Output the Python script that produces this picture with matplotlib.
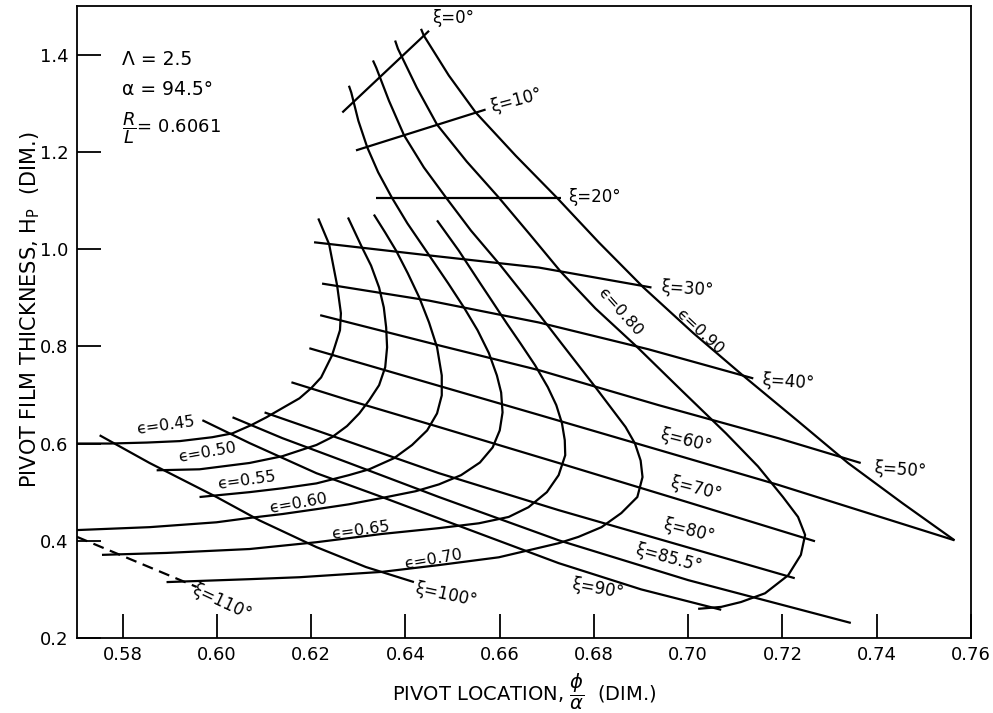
import matplotlib
matplotlib.use('Agg')
import matplotlib.pyplot as plt

plt.rcParams['font.family'] = ['DejaVu Sans']
plt.rcParams['mathtext.fontset'] = 'dejavusans'

# eccentricity curves (pivot location phi/alpha, film thickness Hp)
eps45_x = [0.6215, 0.6238, 0.6255, 0.6263, 0.6261, 0.6244, 0.6221, 0.6200, 0.6175, 0.6139,
           0.6105, 0.6073, 0.6033, 0.5990, 0.5921, 0.5851, 0.5772, 0.5703]
eps45_y = [1.063, 1.010, 0.925, 0.868, 0.833, 0.781, 0.736, 0.714, 0.693, 0.673,
           0.654, 0.638, 0.621, 0.613, 0.605, 0.602, 0.600, 0.600]

eps50_x = [0.6278, 0.6308, 0.6327, 0.6344, 0.6354, 0.6359, 0.6361, 0.6357, 0.6344, 0.6323,
           0.6302, 0.6276, 0.6244, 0.6211, 0.6139, 0.6069, 0.5963, 0.5872]
eps50_y = [1.065, 1.003, 0.966, 0.921, 0.880, 0.839, 0.798, 0.757, 0.720, 0.689,
           0.662, 0.636, 0.613, 0.597, 0.574, 0.560, 0.547, 0.545]

eps55_x = [0.6333, 0.6357, 0.6380, 0.6405, 0.6429, 0.6450, 0.6467, 0.6477, 0.6477, 0.6467,
           0.6446, 0.6414, 0.6376, 0.6323, 0.6280, 0.6211, 0.6139, 0.6069, 0.5963]
eps55_y = [1.071, 1.034, 0.997, 0.950, 0.901, 0.849, 0.798, 0.740, 0.699, 0.662,
           0.627, 0.597, 0.570, 0.547, 0.535, 0.518, 0.508, 0.500, 0.490]

eps60_x = [0.6280, 0.6285, 0.6300, 0.6319, 0.6342, 0.6371, 0.6404, 0.6449, 0.6491, 0.6524,
           0.6553, 0.6577, 0.6594, 0.6603, 0.6606, 0.6600, 0.6585, 0.6558, 0.6518, 0.6471,
           0.6422, 0.6350, 0.6280, 0.6211, 0.6139, 0.6069, 0.5999, 0.5857, 0.5703]
eps60_y = [1.336, 1.322, 1.264, 1.209, 1.158, 1.106, 1.053, 0.989, 0.929, 0.880,
           0.833, 0.786, 0.740, 0.705, 0.664, 0.627, 0.592, 0.561, 0.535, 0.516,
           0.502, 0.488, 0.475, 0.465, 0.455, 0.447, 0.438, 0.428, 0.422]

eps65_x = [0.6467, 0.6490, 0.6513, 0.6559, 0.6583, 0.6615, 0.6644, 0.6675, 0.6702, 0.6720,
           0.6732, 0.6738, 0.6739, 0.6725, 0.6700, 0.6661, 0.6619, 0.6556, 0.6471, 0.6350,
           0.6211, 0.6069, 0.5893, 0.5756]
eps65_y = [1.059, 1.028, 0.997, 0.929, 0.894, 0.847, 0.806, 0.761, 0.716, 0.679,
           0.642, 0.607, 0.576, 0.535, 0.500, 0.469, 0.449, 0.436, 0.426, 0.414,
           0.397, 0.383, 0.375, 0.371]

eps70_x = [0.6331, 0.6338, 0.6365, 0.6397, 0.6439, 0.6486, 0.6539, 0.6602, 0.6661, 0.6731,
           0.6803, 0.6867, 0.6887, 0.6899, 0.6903, 0.6892, 0.6858, 0.6816, 0.6767, 0.6725,
           0.6598, 0.6471, 0.6350, 0.6175, 0.6069, 0.5893]
eps70_y = [1.388, 1.373, 1.305, 1.234, 1.168, 1.106, 1.038, 0.966, 0.894, 0.806,
           0.716, 0.634, 0.600, 0.565, 0.531, 0.490, 0.457, 0.428, 0.408, 0.395,
           0.366, 0.350, 0.336, 0.325, 0.321, 0.315]

eps80_x = [0.6378, 0.6384, 0.6424, 0.6467, 0.6530, 0.6598, 0.6664, 0.6729, 0.6803, 0.6890,
           0.6985, 0.7080, 0.7148, 0.7201, 0.7233, 0.7248, 0.7239, 0.7212, 0.7163, 0.7112,
           0.7070, 0.7021]
eps80_y = [1.429, 1.412, 1.332, 1.256, 1.180, 1.106, 1.030, 0.954, 0.878, 0.800,
           0.710, 0.621, 0.553, 0.490, 0.449, 0.412, 0.371, 0.329, 0.292, 0.274,
           0.264, 0.260]

eps90_x = [0.6433, 0.6439, 0.6492, 0.6549, 0.6634, 0.6721, 0.6810, 0.6905, 0.7011, 0.7116,
           0.7233, 0.7339, 0.7455, 0.7565]
eps90_y = [1.453, 1.439, 1.357, 1.281, 1.192, 1.106, 1.014, 0.921, 0.827, 0.740,
           0.646, 0.560, 0.477, 0.401]

# constant pivot-angle lines xi
xi0_x = [0.6266, 0.6450]
xi0_y = [1.281, 1.449]
xi10_x = [0.6295, 0.6570]
xi10_y = [1.203, 1.287]
xi20_x = [0.6338, 0.6729]
xi20_y = [1.106, 1.106]
xi30_x = [0.6206, 0.6450, 0.6683, 0.6922]
xi30_y = [1.014, 0.987, 0.962, 0.921]
xi40_x = [0.6223, 0.6450, 0.6683, 0.6915, 0.7138]
xi40_y = [0.929, 0.894, 0.849, 0.794, 0.734]
xi50_x = [0.6219, 0.6471, 0.6683, 0.6937, 0.7191, 0.7366]
xi50_y = [0.864, 0.802, 0.751, 0.679, 0.611, 0.560]
xi60_x = [0.6196, 0.6683, 0.7191, 0.7565]
xi60_y = [0.796, 0.659, 0.515, 0.401]
xi70_x = [0.6158, 0.6280, 0.6471, 0.6725, 0.7000, 0.7269]
xi70_y = [0.726, 0.689, 0.634, 0.560, 0.479, 0.399]
xi80_x = [0.6101, 0.6211, 0.6350, 0.6471, 0.6725, 0.7226]
xi80_y = [0.664, 0.627, 0.580, 0.539, 0.463, 0.323]
xi855_x = [0.6033, 0.6139, 0.6280, 0.6471, 0.6725, 0.7000, 0.7345]
xi855_y = [0.654, 0.611, 0.560, 0.490, 0.401, 0.319, 0.231]
xi90_x = [0.5969, 0.6069, 0.6211, 0.6350, 0.6471, 0.6725, 0.6900, 0.7070]
xi90_y = [0.648, 0.601, 0.539, 0.490, 0.446, 0.354, 0.300, 0.258]
xi100_x = [0.5751, 0.5857, 0.5999, 0.6090, 0.6211, 0.6316, 0.6418]
xi100_y = [0.617, 0.560, 0.490, 0.442, 0.387, 0.346, 0.315]
xi110_x = [0.5703, 0.5957]
xi110_y = [0.408, 0.305]

x_ticks = [0.58, 0.60, 0.62, 0.64, 0.66, 0.68, 0.70, 0.72, 0.74, 0.76]
y_ticks = [0.2, 0.4, 0.6, 0.8, 1.0, 1.2, 1.4]

fig = plt.figure(figsize=(9.93, 7.13), dpi=100)
ax = fig.add_axes([77 / 993, 75 / 713, 894 / 993, 632 / 713])

lw = 1.6
style = dict(color='black', lw=lw, solid_capstyle='butt', solid_joinstyle='round')
for xs, ys in [(eps45_x, eps45_y), (eps50_x, eps50_y), (eps55_x, eps55_y),
               (eps60_x, eps60_y), (eps65_x, eps65_y), (eps70_x, eps70_y),
               (eps80_x, eps80_y), (eps90_x, eps90_y)]:
    ax.plot(xs, ys, **style)

for xs, ys in [(xi0_x, xi0_y), (xi10_x, xi10_y), (xi20_x, xi20_y), (xi30_x, xi30_y),
               (xi40_x, xi40_y), (xi50_x, xi50_y), (xi60_x, xi60_y), (xi70_x, xi70_y),
               (xi80_x, xi80_y), (xi855_x, xi855_y), (xi90_x, xi90_y), (xi100_x, xi100_y)]:
    ax.plot(xs, ys, **style)
ax.plot(xi110_x, xi110_y, color='black', lw=lw, ls=(0, (5, 3)))

fs = 12
# xi labels
ax.text(0.6456, 1.476, 'ξ=0°', fontsize=fs, va='center', ha='left')
ax.text(0.6577, 1.305, 'ξ=10°', fontsize=fs, va='center', ha='left', rotation=15)
ax.text(0.6746, 1.108, 'ξ=20°', fontsize=fs, va='center', ha='left')
ax.text(0.6941, 0.919, 'ξ=30°', fontsize=fs, va='center', ha='left', rotation=-4)
ax.text(0.7154, 0.726, 'ξ=40°', fontsize=fs, va='center', ha='left', rotation=-4)
ax.text(0.7392, 0.545, 'ξ=50°', fontsize=fs, va='center', ha='left', rotation=-4)
ax.text(0.6994, 0.607, 'ξ=60°', fontsize=fs, va='center', ha='center', rotation=-14)
ax.text(0.7017, 0.508, 'ξ=70°', fontsize=fs, va='center', ha='center', rotation=-14)
ax.text(0.7002, 0.420, 'ξ=80°', fontsize=fs, va='center', ha='center', rotation=-14)
ax.text(0.6958, 0.364, 'ξ=85.5°', fontsize=fs, va='center', ha='center', rotation=-15)
ax.text(0.6807, 0.301, 'ξ=90°', fontsize=fs, va='center', ha='center', rotation=-10)
ax.text(0.6486, 0.288, 'ξ=100°', fontsize=fs, va='center', ha='center', rotation=-12)
ax.text(0.6010, 0.274, 'ξ=110°', fontsize=fs, va='center', ha='center', rotation=-25)

# eccentricity labels
fe = 11.5
ax.text(0.5891, 0.638, 'ϵ=0.45', fontsize=fe, va='center', ha='center', rotation=8)
ax.text(0.5980, 0.582, 'ϵ=0.50', fontsize=fe, va='center', ha='center', rotation=10)
ax.text(0.6062, 0.525, 'ϵ=0.55', fontsize=fe, va='center', ha='center', rotation=8)
ax.text(0.6172, 0.477, 'ϵ=0.60', fontsize=fe, va='center', ha='center', rotation=10)
ax.text(0.6304, 0.422, 'ϵ=0.65', fontsize=fe, va='center', ha='center', rotation=8)
ax.text(0.6458, 0.362, 'ϵ=0.70', fontsize=fe, va='center', ha='center', rotation=10)
ax.text(0.6856, 0.870, 'ϵ=0.80', fontsize=fe, va='center', ha='center', rotation=-48)
ax.text(0.7025, 0.829, 'ϵ=0.90', fontsize=fe, va='center', ha='center', rotation=-43)

# parameters
ax.text(0.5798, 1.390, 'Λ = 2.5', fontsize=13.5, va='center', ha='left')
ax.text(0.5798, 1.328, 'α = 94.5°', fontsize=13.5, va='center', ha='left')
ax.text(0.5798, 1.248, r'$\dfrac{R}{L}$= 0.6061', fontsize=13, va='center', ha='left')

ax.set_xlim(0.5703, 0.76)
ax.set_ylim(0.2, 1.5)
ax.set_xticks(x_ticks)
ax.set_xticklabels([f'{v:.2f}' for v in x_ticks])
ax.set_yticks(y_ticks)
ax.set_yticklabels([f'{v:.1f}' for v in y_ticks])
ax.tick_params(direction='in', length=17, width=1.3, labelsize=13, pad=6)
for s in ax.spines.values():
    s.set_linewidth(1.3)

ax.set_ylabel(r'PIVOT FILM THICKNESS, H$_\mathrm{P}$  (DIM.)', fontsize=15)
ax.yaxis.label.set_va('center')
ax.yaxis.set_label_coords(-0.0526, 0.519)
ax.set_xlabel(r'PIVOT LOCATION, $\dfrac{\phi}{\alpha}$  (DIM.)', fontsize=14)
ax.xaxis.label.set_va('center')
ax.xaxis.set_label_coords(0.5, -0.085)

fig.savefig('out.png', dpi=100)
